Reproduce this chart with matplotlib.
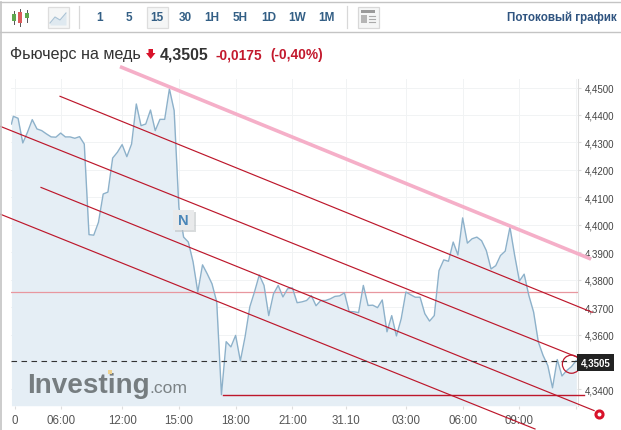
import numpy as np
import matplotlib
matplotlib.use('Agg')
import matplotlib.pyplot as plt
from matplotlib.patches import Rectangle, Polygon

plt.rcParams['font.family'] = ['Liberation Sans', 'DejaVu Sans']

# Котировки, 15-минутные бары
price = [4.4367, 4.4395, 4.4388, 4.4298, 4.4337, 4.4383, 4.4349, 4.4343, 4.4331, 4.4320, 4.4319,
         4.4334, 4.4320, 4.4320, 4.4315, 4.4321, 4.4294, 4.3964, 4.3962, 4.4009, 4.4112,
         4.4119, 4.4243, 4.4264, 4.4292, 4.4248, 4.4294, 4.4440, 4.4361, 4.4367, 4.4418,
         4.4343, 4.4384, 4.4384, 4.4495, 4.4416, 4.4064, 4.3955, 4.3937, 4.3865, 4.3755,
         4.3854, 4.3821, 4.3785, 4.3719, 4.3381, 4.3574, 4.3555, 4.3597, 4.3504, 4.3592,
         4.3701, 4.3756, 4.3817, 4.3779, 4.3669, 4.3748, 4.3779, 4.3737, 4.3767, 4.3770,
         4.3716, 4.3719, 4.3724, 4.3742, 4.3705, 4.3724, 4.3724, 4.3730, 4.3739, 4.3741,
         4.3752, 4.3684, 4.3683, 4.3680, 4.3779, 4.3706, 4.3707, 4.3698, 4.3726, 4.3610,
         4.3669, 4.3595, 4.3657, 4.3755, 4.3745, 4.3736, 4.3736, 4.3676, 4.3649, 4.3669,
         4.3833, 4.3872, 4.3867, 4.3937, 4.3890, 4.4025, 4.3933, 4.3949, 4.3955, 4.3942,
         4.3906, 4.3839, 4.3851, 4.3888, 4.3904, 4.3991, 4.3888, 4.3795, 4.3820, 4.3742,
         4.3682, 4.3573, 4.3524, 4.3487, 4.3406, 4.3509, 4.3449, 4.3469, 4.3483, 4.3505]
bars = np.concatenate(([-0.4], np.arange(len(price) - 1)))

x_ticks = [0.35, 10, 23, 35, 47, 59, 70.4, 83, 95, 107, 119]
x_labels = ['0', '06:00', '12:00', '15:00', '18:00', '21:00', '31.10', '03:00', '06:00', '09:00', '']
y_ticks = [4.34, 4.35, 4.36, 4.37, 4.38, 4.39, 4.40, 4.41, 4.42, 4.43, 4.44, 4.45]
# 4,3500 закрыта плашкой текущей цены
y_labels = ['4,3400', '', '4,3600', '4,3700', '4,3800', '4,3900',
            '4,4000', '4,4100', '4,4200', '4,4300', '4,4400', '4,4500']

# Линии тренда: (бар, цена)
pink_x = [22.55, 122.13]
pink_y = [4.4576, 4.3875]
channel_x = [[9.87, 122.4], [-2.82, 120.2], [5.85, 122.8], [-2.82, 110.3]]
channel_y = [[4.4468, 4.3681], [4.4359, 4.3511], [4.4136, 4.3323], [4.4039, 4.3256]]
low_x = [44.4, 120.65]
low_level = 4.3381
mid_level = 4.3754
last_price = 4.3505

periods = ['1', '5', '15', '30', '1H', '5H', '1D', '1W', '1M']
period_x = [100, 129, 157, 185, 212, 240, 269, 297, 326]

W, H = 621, 431
fig = plt.figure(figsize=(W / 100, H / 100), dpi=100)

# Область графика
left, right, top, bottom = 11.3, 578.3, 80, 406.7
ax = fig.add_axes([left / W, 1 - bottom / H, (right - left) / W, (bottom - top) / H])
ax.set_xlim(-0.43, 119.45)
ax.set_ylim(4.33408, 4.4531)
ax.fill_between(bars, price, 4.33408, color='#e5eef5', lw=0, zorder=1)
ax.plot(bars, price, color='#8db1ca', lw=1.0, zorder=3)

ax.set_xticks(x_ticks, x_labels)
ax.set_yticks(y_ticks, y_labels)
ax.yaxis.tick_right()
ax.grid(color='#f1f3f4', lw=0.7, zorder=0)
ax.set_axisbelow(True)
ax.tick_params(axis='x', labelsize=8.3, colors='#555555', length=2.5, color='#dddddd', pad=3.5)
ax.tick_params(axis='y', labelsize=7, colors='#444444', length=2.5, color='#dddddd', pad=2.5)
for s in ['top', 'left', 'bottom']:
    ax.spines[s].set_visible(False)
ax.spines['right'].set_color('#dddddd')

RED = '#bd172b'
ax.plot(pink_x, pink_y, color='#f5afc8', lw=2.6, clip_on=False, zorder=4, solid_capstyle='butt')
for xs, ys in zip(channel_x, channel_y):
    ax.plot(xs, ys, color=RED, lw=0.85, clip_on=False, zorder=4)
ax.plot(low_x, [low_level, low_level], color=RED, lw=1.0, clip_on=False, zorder=4)
ax.axhline(mid_level, color='#e8979f', lw=0.9, zorder=2)
ax.axhline(last_price, color='#333333', lw=0.8, dashes=(5, 4), zorder=4)

# Маркеры на концах линий
ax.scatter([118], [4.3492], s=170, facecolors='none', edgecolors=RED, lw=0.9, clip_on=False, zorder=5)
ax.scatter([123.9], [4.3311], s=26, facecolors='white', edgecolors='#d8122a', lw=2.2, clip_on=False, zorder=5)

ax.text(120.0, 4.3498, '4,3505', color='white', fontsize=7, fontweight='bold', va='center', ha='left',
        clip_on=False, zorder=6,
        bbox=dict(boxstyle='square,pad=0.36', fc='#222222', ec='none'))

# Логотип
ax.text(2.9, 4.3392, 'Investing', color='#767d80', fontsize=20.1, fontweight='bold', zorder=3, va='baseline')
ax.text(28.8, 4.3392, '.com', color='#7b8285', fontsize=12.6, zorder=3, va='baseline')

# Шапка и панель инструментов, в пикселях картинки
ui = fig.add_axes([0, 0, 1, 1], facecolor='none')
ui.set_xlim(0, W)
ui.set_ylim(H, 0)
ui.axis('off')

ui.plot([0, W], [2.5, 2.5], color='#c4c4c4', lw=1.0)
ui.plot([0, W], [33, 33], color='#c4c4c4', lw=1.0)
ui.plot([0.5, 0.5], [2.5, H], color='#c4c4c4', lw=1.2)
ui.plot([79, 79], [7, 29], color='#d8d8d8', lw=0.9)
ui.plot([346.5, 346.5], [7, 29], color='#d8d8d8', lw=0.9)

# Иконка свечей
for cx, c, y0, y1, w0, w1 in [(14, '#5fa84f', 15, 22, 12, 25), (20, '#dd5a5a', 13, 24, 10, 27), (27, '#5fa84f', 14, 19, 11, 23)]:
    ui.plot([cx, cx], [w0, w1], color='#555555', lw=0.7)
    ui.add_patch(Rectangle((cx - 2, y0), 4, y1 - y0, fc=c, ec='none', zorder=3))

# Кнопка линейного графика
ui.add_patch(Rectangle((47.5, 7.5), 21, 21, fc='#f5f6f6', ec='#dddddd', lw=0.9))
icon_x = [50, 55, 60, 66]
icon_y = [24, 18, 21, 14]
ui.fill_between(icon_x, icon_y, 26, color='#dfe9f0', lw=0)
ui.plot(icon_x, icon_y, color='#a9c2d5', lw=0.8)

ui.add_patch(Rectangle((146.5, 7.5), 21, 21, fc='#f5f6f6', ec='#dddddd', lw=0.9))
for label, px in zip(periods, period_x):
    ui.text(px, 18, label, color='#335f85', fontsize=8.5, fontweight='bold', ha='center', va='center')

# Иконка макета
ui.add_patch(Rectangle((357.5, 7.5), 21, 21, fc='#f5f6f6', ec='#d8d8d8', lw=0.9))
ui.add_patch(Rectangle((361, 11), 14, 3, fc='#9a9a9a', ec='none'))
ui.add_patch(Rectangle((361, 16), 6, 8, fc='#b5b5b5', ec='none'))
for yy in [17, 20, 23]:
    ui.plot([369, 375], [yy, yy], color='#aaaaaa', lw=0.8)

ui.text(617, 18, 'Потоковый график', color='#2f5480', fontsize=8.4, fontweight='bold', ha='right', va='center')

ui.text(10, 55, 'Фьючерс на медь', color='#333333', fontsize=11.6, ha='left', va='center')
ui.add_patch(Polygon([(148.5, 50), (153, 50), (153, 54), (155.5, 54), (150.7, 60), (146, 54), (148.5, 54)],
                     fc='#d8122a', ec='none'))
ui.text(160, 54.5, '4,3505', color='#333333', fontsize=11.4, fontweight='bold', ha='left', va='center')
ui.text(216, 55.5, '-0,0175', color='#c3192d', fontsize=9.9, fontweight='bold', ha='left', va='center')
ui.text(270, 55.5, '(-0,40%)', color='#c3192d', fontsize=9.9, fontweight='bold', ha='left', va='center')

# Значок новости
ui.add_patch(Rectangle((175, 213), 21, 20, fc='#bfc3c6', ec='none', alpha=0.6, zorder=6))
ui.add_patch(Rectangle((173, 211), 21, 20, fc='#e9eaeb', ec='none', zorder=7))
ui.text(183.5, 221, 'N', color='#4a86b8', fontsize=10.5, fontweight='bold', ha='center', va='center', zorder=8)

# Жёлтая точка логотипа
ui.add_patch(Rectangle((108, 371), 4, 4, fc='#f0d492', ec='none', zorder=4))

fig.savefig('out.png', dpi=100)
